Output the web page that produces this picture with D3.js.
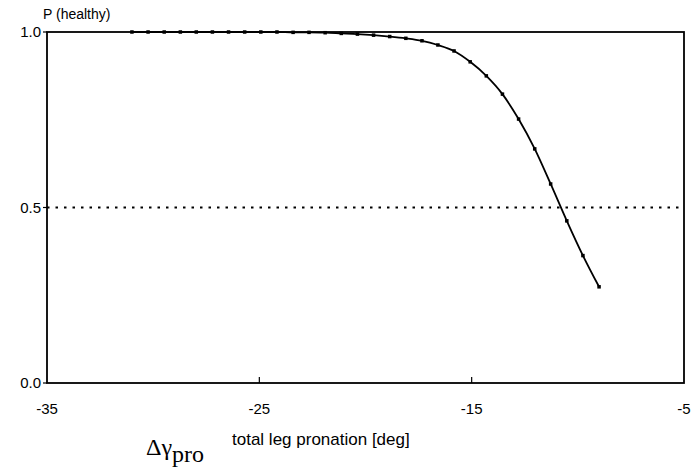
<!DOCTYPE html>
<html><head><meta charset="utf-8">
<script src="https://cdn.jsdelivr.net/npm/d3@7"></script>
<style>body{margin:0;background:#fff}svg{display:block}</style>
</head><body>
<script>
// data
const xValues = [-31.00,-30.24,-29.48,-28.72,-27.97,-27.21,-26.45,-25.69,-24.93,-24.17,
                 -23.41,-22.66,-21.90,-21.14,-20.38,-19.62,-18.86,-18.10,-17.34,-16.59,
                 -15.83,-15.07,-14.31,-13.55,-12.79,-12.03,-11.28,-10.52,-9.76,-9.00];
const pHealthy = [1.000,1.000,1.000,1.000,1.000,1.000,1.000,1.000,1.000,1.000,
                  0.999,0.999,0.998,0.996,0.994,0.991,0.987,0.982,0.975,0.963,
                  0.946,0.915,0.875,0.823,0.752,0.667,0.567,0.462,0.363,0.274];
const xTicks = [-35,-25,-15,-5];
const yTicks = [0.0,0.5,1.0];
const threshold = 0.5;

const W=694,H=470;
const svg=d3.select("body").append("svg").attr("width",W).attr("height",H);
const x=d3.scaleLinear().domain([-35,-5]).range([47,684]);
const y=d3.scaleLinear().domain([0,1]).range([383,32]);
const sans="Liberation Sans, Arial, sans-serif";

// dotted threshold line
svg.append("line").attr("x1",x(-35)).attr("x2",x(-5)).attr("y1",y(threshold)).attr("y2",y(threshold))
  .attr("stroke","#000").attr("stroke-width",2.2).attr("stroke-dasharray","2.5,6");

// frame
svg.append("rect").attr("x",x(-35)).attr("y",y(1)).attr("width",x(-5)-x(-35)).attr("height",y(0)-y(1))
  .attr("fill","none").attr("stroke","#000").attr("stroke-width",1.8);

// x ticks (inward) and labels
svg.selectAll(".xt").data(xTicks.slice(1,-1)).enter().append("line")
  .attr("x1",d=>x(d)).attr("x2",d=>x(d)).attr("y1",y(0)).attr("y2",y(0)-6)
  .attr("stroke","#000").attr("stroke-width",1.2);
svg.selectAll(".xl").data(xTicks).enter().append("text")
  .attr("x",d=>x(d)).attr("y",414).attr("text-anchor","middle")
  .attr("font-family",sans).attr("font-size",15)
  .text(d=>d3.format("d")(d).replace("−","-"));

// y ticks and labels
svg.selectAll(".yt").data(yTicks).enter().append("line")
  .attr("x1",x(-35)-4).attr("x2",x(-35)).attr("y1",d=>y(d)).attr("y2",d=>y(d))
  .attr("stroke","#000").attr("stroke-width",1.2);
svg.selectAll(".yl").data(yTicks).enter().append("text")
  .attr("x",41).attr("y",d=>y(d)+5).attr("text-anchor","end")
  .attr("font-family",sans).attr("font-size",15)
  .text(d=>d3.format(".1f")(d));

// curve
const pts=xValues.map((v,i)=>[v,pHealthy[i]]);
svg.append("path").datum(pts)
  .attr("d",d3.line().x(d=>x(d[0])).y(d=>y(d[1])).curve(d3.curveMonotoneX))
  .attr("fill","none").attr("stroke","#000").attr("stroke-width",1.8);
svg.selectAll(".pt").data(pts).enter().append("rect")
  .attr("x",d=>x(d[0])-1.75).attr("y",d=>y(d[1])-1.75).attr("width",3.5).attr("height",3.5).attr("fill","#000");

// labels
svg.append("text").attr("x",43).attr("y",19)
  .attr("font-family",sans).attr("font-size",14).text("P (healthy)");
svg.append("text").attr("x",232).attr("y",445)
  .attr("font-family",sans).attr("font-size",17).text("total leg pronation [deg]");
const g=svg.append("text").attr("x",146).attr("y",455)
  .attr("font-family","Liberation Serif, DejaVu Serif, serif").attr("font-size",24);
g.append("tspan").text("Δγ");
g.append("tspan").attr("dy",7).text("pro");
</script>
</body></html>
